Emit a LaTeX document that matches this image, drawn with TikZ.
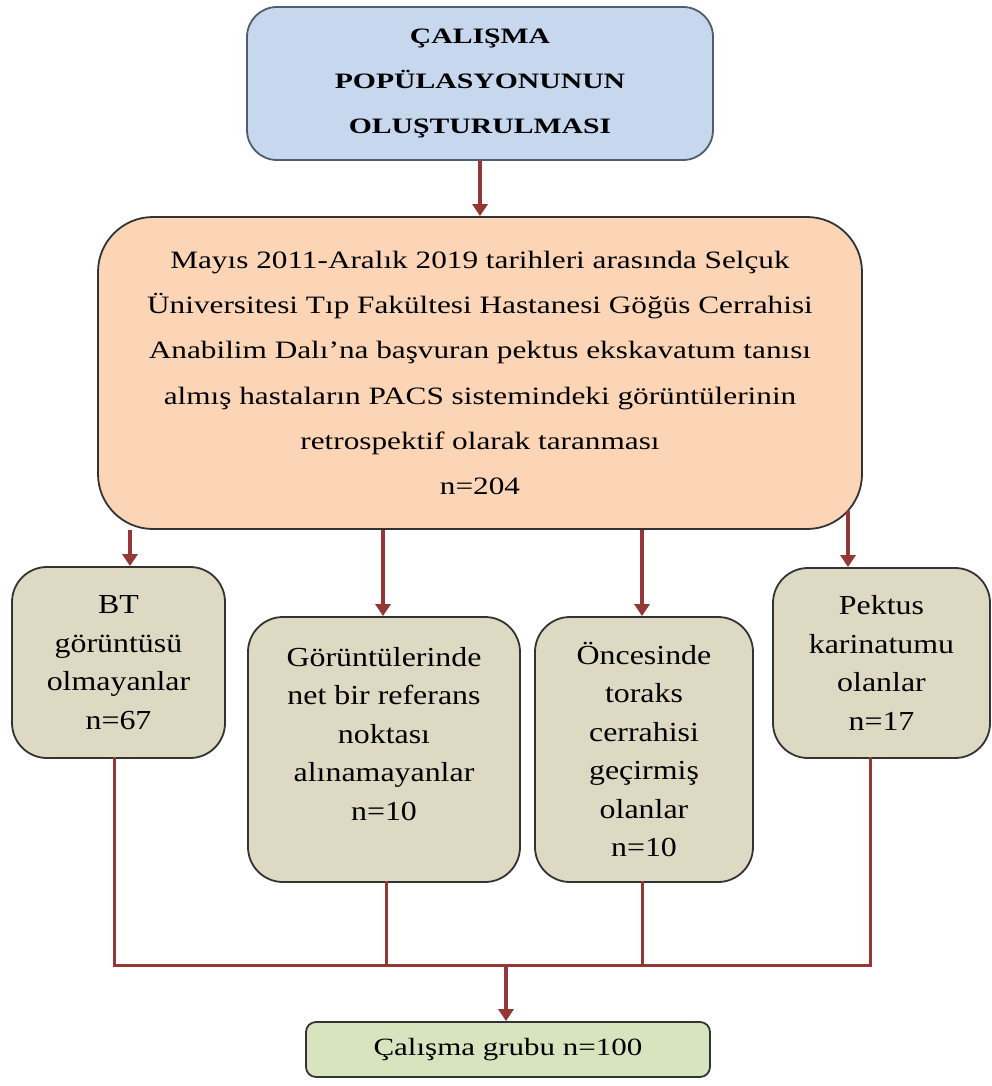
\documentclass[tikz,border=0pt]{standalone}
\usepackage{fontspec}
\setmainfont{Liberation Serif}
\newfontfamily\topf[FakeStretch=1.35]{Liberation Serif}
\newfontfamily\midf[FakeStretch=1.25]{Liberation Serif}
\newfontfamily\boxf[FakeStretch=1.16]{Liberation Serif}
\usetikzlibrary{arrows.meta}
\definecolor{cTop}{HTML}{C6D7EE}
\definecolor{cTopB}{HTML}{4F5D6E}
\definecolor{cOr}{HTML}{FBD5B5}
\definecolor{cGr}{HTML}{DDD9C3}
\definecolor{cGn}{HTML}{D7E4BD}
\definecolor{cB}{HTML}{333333}
\definecolor{cRed}{HTML}{953735}
\tikzset{
  box/.style={draw=cB, line width=1.8pt, align=center, inner sep=0pt},
  topbox/.style={box, fill=cTop, draw=cTopB, minimum width=466pt, minimum height=153pt,
    rounded corners=30pt, font=\topf\bfseries\fontsize{22}{45}\selectfont},
  orbox/.style={box, fill=cOr, minimum width=764pt, minimum height=312pt,
    rounded corners=55pt, font=\midf\fontsize{25}{45.2}\selectfont},
  grbox/.style={box, fill=cGr, rounded corners=35pt, font=\boxf\fontsize{27.5}{38.5}\selectfont},
  gnbox/.style={box, fill=cGn, minimum width=404pt, minimum height=55pt,
    rounded corners=10pt, font=\midf\fontsize{24.8}{30}\selectfont},
  txt/.style={align=center, inner sep=0pt, font=\boxf\fontsize{27.5}{38.5}\selectfont},
  arr/.style={draw=cRed, line width=4pt, -{Triangle[width=15pt,length=12pt]}},
  link/.style={draw=cRed, line width=3pt, line cap=rect},
}
\begin{document}
\begin{tikzpicture}[x=1pt,y=-1pt]
\useasboundingbox (0,0) rectangle (992,1086);
\fill[white] (0,0) rectangle (992,1086);

\node[topbox] (top) at (480,83.5) {ÇALIŞMA\\POPÜLASYONUNUN\\OLUŞTURULMASI};
\node[orbox] (or) at (480,373) {Mayıs 2011-Aralık 2019 tarihleri arasında Selçuk\\
Üniversitesi Tıp Fakültesi Hastanesi Göğüs Cerrahisi\\
Anabilim Dalı’na başvuran pektus ekskavatum tanısı\\
almış hastaların PACS sistemindeki görüntülerinin\\
retrospektif olarak taranması\\
n=204};
\node[grbox, minimum width=213pt, minimum height=191pt] (b1) at (118.5,662.5) {BT\\görüntüsü\\olmayanlar\\n=67};
\node[grbox, minimum width=272pt, minimum height=265pt] (b2) at (384,749.5) {};
\node[txt] (b2t) at (384,734) {Görüntülerinde\\net bir referans\\noktası\\alınamayanlar\\n=10};
\node[grbox, minimum width=218pt, minimum height=265pt] (b3) at (644,749.5) {Öncesinde\\toraks\\cerrahisi\\geçirmiş\\olanlar\\n=10};
\node[grbox, minimum width=217pt, minimum height=190pt] (b4) at (881.5,663) {Pektus\\karinatumu\\olanlar\\n=17};
\node[gnbox] (bot) at (508,1049.5) {Çalışma grubu n=100};

\coordinate (a1) at (130,0);
\coordinate (a2) at (383,0);
\coordinate (a3) at (642,0);
\coordinate (a4) at (848,511);
\coordinate (jl) at (114,965);
\coordinate (c2) at (386,965);
\coordinate (c3) at (642,965);
\coordinate (jr) at (870,965);
\coordinate (jm) at (506,965);

\draw[arr] (top.south) -- (or.north);
\draw[arr] (or.south -| a1) -- (b1.north -| a1);
\draw[arr] (or.south -| a2) -- (b2.north -| a2);
\draw[arr] (or.south -| a3) -- (b3.north -| a3);
\draw[arr] (a4) -- (b4.north -| a4);

\draw[link] (b1.south -| jl) -- (jl) -- (jr) -- (b4.south -| jr);
\draw[link] (b2.south -| c2) -- (c2);
\draw[link] (b3.south -| c3) -- (c3);
\draw[arr] (jm) -- (bot.north -| jm);
\end{tikzpicture}
\end{document}
